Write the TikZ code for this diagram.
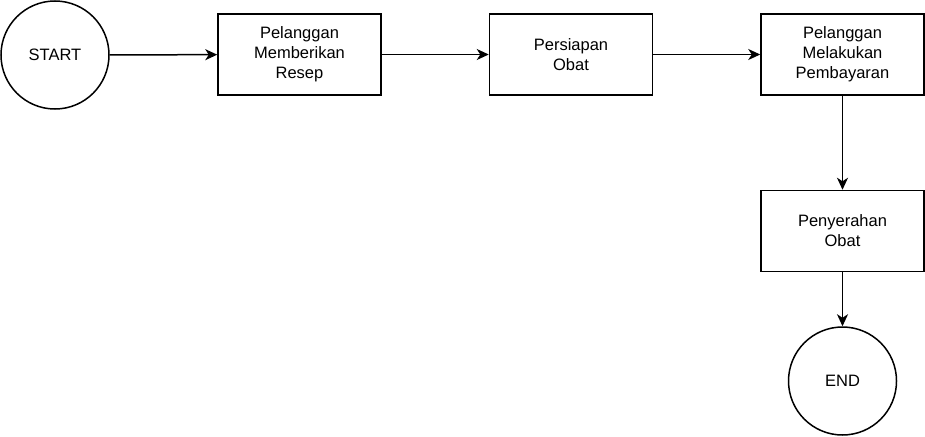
\documentclass[tikz,border=0pt]{standalone}
\usepackage{fontspec}
\setmainfont{Liberation Sans}
\usetikzlibrary{arrows.meta}
\begin{document}
\begin{tikzpicture}[x=1pt,y=-1pt,
  every node/.style={font=\fontsize{16.5}{20}\selectfont, text=black},
  box/.style={draw=black, line width=1.5pt, minimum width=163pt, minimum height=81pt, align=center, inner sep=0pt},
  term/.style={draw=black, line width=1.5pt, circle, minimum size=108pt, inner sep=0pt},
  conn/.style={draw=black, line width=1.5pt, -{Stealth[length=12pt,width=11pt,inset=3.5pt]}}]
\useasboundingbox (0,0) rectangle (925,436);
\node[term] (start) at (55,55) {START};
\node[box] (b1) at (299.5,54.5) {Pelanggan\\Memberikan\\Resep};
\node[box] (b2) at (571,54.5) {Persiapan\\Obat};
\node[box] (b3) at (842.5,54.5) {Pelanggan\\Melakukan\\Pembayaran};
\node[box] (b4) at (842.5,231) {Penyerahan\\Obat};
\node[term, minimum size=108pt] (end) at (842.5,381) {END};
\draw[conn] (start) -- (b1);
\draw[conn] (b1) -- (b2);
\draw[conn] (b2) -- (b3);
\draw[conn] (b3) -- (b4);
\draw[conn] (b4) -- (end);
\end{tikzpicture}
\end{document}
